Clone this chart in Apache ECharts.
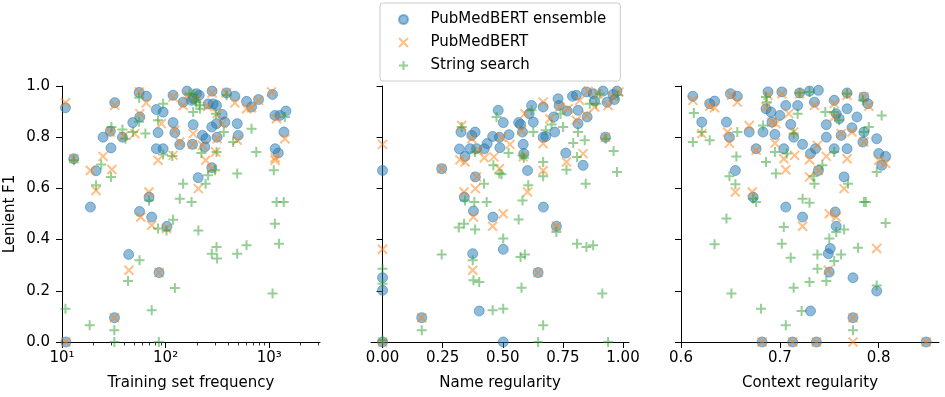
<!DOCTYPE html>
<html>
<head>
<meta charset="utf-8">
<script src="https://cdn.jsdelivr.net/npm/echarts@6/dist/echarts.min.js"></script>
<style>
  html, body { margin: 0; padding: 0; background: #fff; }
  #main { width: 945px; height: 397px; }
</style>
</head>
<body>
<div id="main"></div>
<script>
// legend names
const seriesNames = ['PubMedBERT ensemble', 'PubMedBERT', 'String search'];

// tick values
const freqTicks = [10, 100, 1000];
const freqMinorTicks = [20, 30, 40, 50, 60, 70, 80, 90, 200, 300, 400, 500, 600, 700, 800, 900, 2000, 3000];
const nameTicks = [0, 0.25, 0.5, 0.75, 1];
const contextTicks = [0.6, 0.7, 0.8];

// panel 1: [training set frequency, lenient F1]
const freqEnsemble = [[10.8,0.915],[10.9,0],[13,0.716],[18.8,0.527],[21.3,0.669],[24.9,0.80],[29.7,0.758],[29.3,0.823],[32.3,0.935],[32.1,0.095],[38.3,0.80],[44,0.342],[48.2,0.857],[56.3,0.879],[55.5,0.975],[56,0.51],[65.3,0.96],[69.2,0.566],[73.4,0.488],[81.4,0.908],[84.5,0.818],[81.4,0.755],[86.5,0.271],[94.6,0.898],[94.6,0.755],[103,0.452],[118,0.964],[118,0.857],[122.8,0.818],[137,0.771],[147.6,0.937],[161,0.98],[184.5,0.849],[181.6,0.772],[198.6,0.97],[186,0.95],[206,0.642],[227,0.807],[239,0.762],[244.5,0.794],[257,0.93],[279,0.84],[281,0.98],[279,0.681],[288,0.93],[310,0.924],[310,0.853],[314,0.80],[351,0.889],[373,0.859],[387,0.973],[466,0.96],[491,0.853],[502,0.807],[604,0.94],[675,0.918],[789,0.947],[1076,0.967],[1135,0.885],[1140,0.755],[1222,0.738],[1268,0.885],[1449,0.902],[1386,0.82],[178,0.944],[211,0.964]];
const freqSingle = [[10.8,0.935],[10.9,0],[13,0.716],[18.8,0.67],[21.3,0.592],[24.9,0.725],[30.3,0.674],[29.3,0.82],[32.3,0.925],[32.1,0.095],[39.4,0.805],[44.3,0.28],[50.4,0.814],[56.3,0.892],[56,0.977],[57.5,0.488],[65,0.934],[69,0.586],[73.4,0.456],[84.5,0.71],[86.5,0.271],[91,0.853],[102,0.443],[118,0.729],[118,0.957],[122.8,0.827],[137,0.781],[147.6,0.924],[165,0.964],[184.5,0.814],[181.6,0.772],[198.6,0.95],[207,0.599],[227,0.768],[244,0.71],[255,0.92],[279,0.677],[281,0.973],[304,0.742],[314,0.794],[314,0.892],[351,0.853],[387,0.973],[466,0.934],[491,0.788],[604,0.911],[675,0.915],[789,0.944],[1052,0.977],[1140,0.71],[1140,0.72],[1177,0.872],[1416,0.794]];
const freqString = [[10.8,0.13],[13,0.71],[18.5,0.065],[21.3,0.612],[23.9,0.693],[29.7,0.645],[30,0.84],[32,0.046],[32,0],[38.3,0.83],[41,0.794],[43.4,0.238],[48.5,0.82],[56,0.319],[55.5,0.86],[55.5,0.954],[63.8,0.814],[69.2,0.553],[73.4,0.124],[84.5,0.866],[84.5,0.443],[86,0],[94.6,0.931],[94.6,0.732],[102,0.436],[116,0.727],[118,0.478],[122.8,0.211],[137,0.56],[147.6,0.618],[178,0.547],[184.5,0.898],[198,0.937],[207,0.436],[215,0.911],[221,0.738],[243,0.618],[257,0.651],[279,0.345],[300,0.671],[310,0.371],[314,0.326],[310,0.742],[306,0.892],[364,0.82],[387,0.964],[448,0.781],[491,0.658],[491,0.345],[604,0.378],[675,0.833],[750,0.742],[1076,0.189],[1107,0.671],[1135,0.462],[1177,0.547],[1380,0.547],[1240,0.384],[1416,0.879],[170,0.97],[186,0.97],[196,0.944],[212,0.925]];

// panel 2: [name regularity, lenient F1]
const nameEnsemble = [[0,0.67],[0,0.251],[0,0.202],[0,0],[0.163,0.095],[0.246,0.677],[0.32,0.754],[0.326,0.82],[0.34,0.566],[0.343,0.725],[0.371,0.807],[0.364,0.755],[0.378,0.512],[0.385,0.82],[0.386,0.645],[0.375,0.345],[0.391,0.755],[0.402,0.121],[0.423,0.755],[0.435,0.775],[0.458,0.803],[0.459,0.488],[0.481,0.905],[0.486,0.80],[0.488,0.759],[0.502,0.857],[0.502,0.362],[0.502,0],[0.526,0.81],[0.566,0.857],[0.574,0.85],[0.582,0.82],[0.585,0.772],[0.588,0.736],[0.603,0.67],[0.61,0.892],[0.62,0.924],[0.627,0.859],[0.647,0.271],[0.668,0.918],[0.668,0.80],[0.669,0.527],[0.679,0.803],[0.712,0.879],[0.723,0.452],[0.73,0.95],[0.734,0.924],[0.716,0.82],[0.762,0.738],[0.768,0.902],[0.79,0.96],[0.806,0.964],[0.813,0.853],[0.813,0.905],[0.834,0.69],[0.851,0.879],[0.848,0.977],[0.876,0.97],[0.882,0.941],[0.917,0.98],[0.927,0.80],[0.934,0.937],[0.958,0.967],[0.975,0.98],[0.965,0.947]];
const nameSingle = [[0,0.772],[0,0.362],[0,0],[0.163,0.095],[0.246,0.677],[0.322,0.712],[0.329,0.846],[0.339,0.586],[0.343,0.703],[0.371,0.794],[0.378,0.488],[0.375,0.28],[0.386,0.599],[0.391,0.645],[0.398,0.749],[0.423,0.72],[0.458,0.452],[0.463,0.723],[0.486,0.677],[0.502,0.501],[0.495,0.80],[0.53,0.772],[0.578,0.827],[0.585,0.723],[0.592,0.892],[0.603,0.586],[0.647,0.271],[0.668,0.67],[0.668,0.937],[0.668,0.775],[0.696,0.872],[0.723,0.452],[0.737,0.918],[0.765,0.703],[0.772,0.911],[0.806,0.866],[0.82,0.944],[0.834,0.736],[0.848,0.885],[0.855,0.98],[0.882,0.918],[0.896,0.97],[0.927,0.80],[0.938,0.924],[0.958,0.957],[0.983,0.977]];
const nameString = [[0,0.286],[0,0.228],[0,0.007],[0.163,0.046],[0.246,0.342],[0.317,0.447],[0.329,0.84],[0.339,0.462],[0.343,0.553],[0.375,0.319],[0.378,0.241],[0.382,0.547],[0.385,0.439],[0.385,0.742],[0.402,0.234],[0.422,0.618],[0.433,0.547],[0.458,0.124],[0.461,0.69],[0.474,0.879],[0.486,0.658],[0.495,0.655],[0.502,0.404],[0.502,0.13],[0.524,0.738],[0.566,0.479],[0.574,0.332],[0.592,0.342],[0.578,0.212],[0.582,0.553],[0.582,0.729],[0.588,0.72],[0.606,0.612],[0.627,0.82],[0.62,0.905],[0.647,0],[0.668,0.065],[0.668,0.647],[0.668,0.703],[0.679,0.827],[0.703,0.85],[0.723,0.43],[0.74,0.892],[0.751,0.84],[0.765,0.673],[0.793,0.777],[0.809,0.723],[0.809,0.384],[0.813,0.82],[0.841,0.788],[0.845,0.618],[0.848,0.371],[0.876,0.378],[0.889,0.931],[0.914,0.189],[0.928,0.794],[0.938,0],[0.961,0.746],[0.975,0.664],[0.979,0.964],[0.862,0.931],[0.903,0.97]];

// panel 3: [context regularity, lenient F1]
const contextEnsemble = [[0.612,0.96],[0.621,0.859],[0.629,0.931],[0.634,0.941],[0.646,0.859],[0.649,0.80],[0.65,0.97],[0.655,0.67],[0.657,0.96],[0.669,0.82],[0.673,0.566],[0.676,0.755],[0.682,0],[0.683,0.82],[0.686,0.911],[0.688,0.977],[0.691,0.898],[0.692,0.859],[0.695,0.811],[0.70,0.885],[0.702,0.977],[0.704,0.755],[0.706,0.527],[0.706,0.924],[0.711,0.85],[0.714,0.80],[0.713,0],[0.718,0.924],[0.72,0.973],[0.723,0.488],[0.723,0.772],[0.73,0.98],[0.731,0.121],[0.731,0.736],[0.735,0.937],[0.736,0.755],[0.737,0],[0.739,0.983],[0.739,0.67],[0.747,0.849],[0.747,0.80],[0.749,0.345],[0.751,0.365],[0.75,0.273],[0.755,0.755],[0.755,0.944],[0.756,0.508],[0.757,0.452],[0.757,0.892],[0.76,0.872],[0.762,0.807],[0.765,0.645],[0.768,0.755],[0.768,0.911],[0.768,0.973],[0.773,0.837],[0.774,0.251],[0.774,0.095],[0.778,0.879],[0.785,0.82],[0.785,0.957],[0.789,0.931],[0.798,0.794],[0.798,0.199],[0.80,0.736],[0.803,0.69],[0.807,0.725],[0.848,0],[0.784,0.781]];
const contextSingle = [[0.612,0.944],[0.621,0.814],[0.629,0.921],[0.634,0.915],[0.647,0.82],[0.649,0.777],[0.651,0.964],[0.657,0.937],[0.655,0.586],[0.669,0.846],[0.672,0.586],[0.676,0.749],[0.682,0],[0.688,0.964],[0.686,0.918],[0.692,0.859],[0.695,0.777],[0.696,0.853],[0.702,0.97],[0.704,0.716],[0.706,0.673],[0.709,0.892],[0.714,0.82],[0.715,0.729],[0.723,0.452],[0.72,0.97],[0.73,0.712],[0.73,0.645],[0.735,0.924],[0.738,0.768],[0.737,0],[0.739,0.67],[0.747,0.725],[0.75,0.501],[0.749,0.28],[0.755,0.931],[0.755,0.879],[0.757,0.488],[0.762,0.814],[0.765,0.599],[0.768,0.716],[0.768,0.964],[0.774,0.095],[0.774,0],[0.773,0.82],[0.785,0.781],[0.785,0.957],[0.79,0.921],[0.80,0.71],[0.798,0.365],[0.807,0.697],[0.713,0],[0.848,0]];
const contextString = [[0.612,0.781],[0.613,0.895],[0.621,0.82],[0.629,0.788],[0.634,0.382],[0.646,0.482],[0.649,0.647],[0.651,0.189],[0.655,0.616],[0.656,0.725],[0.657,0.82],[0.673,0.56],[0.676,0.547],[0.681,0.13],[0.683,0.846],[0.686,0.703],[0.687,0.937],[0.686,0.957],[0.695,0.742],[0.696,0.658],[0.702,0.384],[0.704,0.449],[0.706,0.065],[0.707,0.736],[0.711,0.329],[0.714,0.814],[0.714,0.212],[0.718,0.892],[0.72,0.973],[0.723,0.56],[0.722,0.121],[0.73,0.544],[0.73,0.234],[0.73,0.977],[0.734,0.647],[0.735,0.618],[0.738,0.286],[0.738,0.342],[0.743,0.69],[0.746,0.898],[0.747,0.238],[0.75,0.404],[0.755,0.742],[0.755,0.316],[0.757,0.43],[0.76,0.866],[0.762,0.342],[0.765,0.439],[0.769,0.618],[0.774,0.046],[0.779,0.368],[0.785,0.82],[0.785,0.547],[0.787,0.547],[0.79,0.84],[0.784,0.944],[0.798,0.664],[0.798,0.221],[0.803,0.885],[0.807,0.465],[0.768,0.97],[0.755,0.898]];

let chart = echarts.init(document.getElementById('main'));

const font = 'DejaVu Sans';
const crossPath = 'path://M0,0L10,10M10,0L0,10';
const plusPath = 'path://M5,0L5,10M0,5L10,5';
const supDigits = { '1': '\u00b9', '2': '\u00b2', '3': '\u00b3' };

let grids = [62, 371, 681].map(left => ({
  left: left, top: 86, width: 258, height: 256,
  containLabel: false, outerBoundsMode: 'none'
}));

let axisLineStyle = { show: true, lineStyle: { color: '#000', width: 1 } };
let labelStyle = { color: '#000', fontSize: 15, fontFamily: font };

let xAxes = [
  {
    gridIndex: 0, type: 'log', logBase: 10, min: 10, max: 3090, position: 'bottom',
    name: 'Training set frequency', nameLocation: 'middle', nameGap: 34,
    nameTextStyle: labelStyle,
    axisLine: axisLineStyle, splitLine: { show: false },
    axisTick: { show: true, length: 6, customValues: freqTicks, lineStyle: { color: '#000' } },
    axisLabel: Object.assign({ margin: 9, customValues: freqTicks,
      formatter: v => '10' + supDigits[String(Math.round(Math.log10(v)))] }, labelStyle)
  },
  {
    gridIndex: 1, type: 'value', min: -0.048, max: 1.025, position: 'bottom',
    name: 'Name regularity', nameLocation: 'middle', nameGap: 34,
    nameTextStyle: labelStyle,
    axisLine: axisLineStyle, splitLine: { show: false },
    axisTick: { show: true, length: 6, customValues: nameTicks, lineStyle: { color: '#000' } },
    axisLabel: Object.assign({ margin: 9, customValues: nameTicks, formatter: v => v.toFixed(2) }, labelStyle)
  },
  {
    gridIndex: 2, type: 'value', min: 0.6, max: 0.861, position: 'bottom',
    name: 'Context regularity', nameLocation: 'middle', nameGap: 34,
    nameTextStyle: labelStyle,
    axisLine: axisLineStyle, splitLine: { show: false },
    axisTick: { show: true, length: 6, customValues: contextTicks, lineStyle: { color: '#000' } },
    axisLabel: Object.assign({ margin: 9, customValues: contextTicks, formatter: v => v.toFixed(1) }, labelStyle)
  },
  {
    // minor ticks of the log axis
    gridIndex: 0, type: 'log', logBase: 10, min: 10, max: 3090, position: 'bottom',
    axisLine: { show: false }, splitLine: { show: false },
    axisTick: { show: true, length: 3.5, customValues: freqMinorTicks, lineStyle: { color: '#000', width: 0.8 } },
    axisLabel: { show: false }
  }
];

let yAxes = [0, 1, 2].map(i => ({
  gridIndex: i, type: 'value', min: 0, max: 1, interval: 0.2,
  name: i === 0 ? 'Lenient F1' : '', nameLocation: 'middle', nameGap: 44,
  nameTextStyle: labelStyle,
  axisLine: axisLineStyle, splitLine: { show: false },
  axisTick: { show: true, length: 6, lineStyle: { color: '#000' } },
  axisLabel: Object.assign({ show: i === 0, margin: 12, formatter: v => v.toFixed(1) }, labelStyle)
}));

function circleSeries(data, idx) {
  return {
    name: seriesNames[0], type: 'scatter', xAxisIndex: idx, yAxisIndex: idx,
    symbol: 'circle', symbolSize: 10, data: data,
    itemStyle: { color: '#1f77b4', borderColor: '#1f77b4', borderWidth: 1, opacity: 0.5 }
  };
}
function crossSeries(data, idx) {
  return {
    name: seriesNames[1], type: 'scatter', xAxisIndex: idx, yAxisIndex: idx,
    symbol: crossPath, symbolSize: 9, data: data,
    itemStyle: { color: '#ff7f0e', borderColor: '#ff7f0e', borderWidth: 2, opacity: 0.5 }
  };
}
function plusSeries(data, idx) {
  return {
    name: seriesNames[2], type: 'scatter', xAxisIndex: idx, yAxisIndex: idx,
    symbol: plusPath, symbolSize: 10, data: data,
    itemStyle: { color: '#2ca02c', borderColor: '#2ca02c', borderWidth: 2, opacity: 0.5 }
  };
}

let option = {
  backgroundColor: '#fff',
  animation: false,
  textStyle: { fontFamily: font },
  legend: {
    orient: 'vertical', left: 380, top: 3,
    data: seriesNames,
    itemWidth: 44, itemHeight: 9, itemGap: 8,
    padding: [9, 14, 8, 18],
    borderColor: '#cccccc', borderWidth: 1, borderRadius: 3,
    textStyle: { color: '#000', fontSize: 15, fontFamily: font }
  },
  grid: grids,
  xAxis: xAxes,
  yAxis: yAxes,
  series: [
    circleSeries(freqEnsemble, 0), crossSeries(freqSingle, 0), plusSeries(freqString, 0),
    circleSeries(nameEnsemble, 1), crossSeries(nameSingle, 1), plusSeries(nameString, 1),
    circleSeries(contextEnsemble, 2), crossSeries(contextSingle, 2), plusSeries(contextString, 2)
  ]
};
chart.setOption(option);
</script>
</body>
</html>
